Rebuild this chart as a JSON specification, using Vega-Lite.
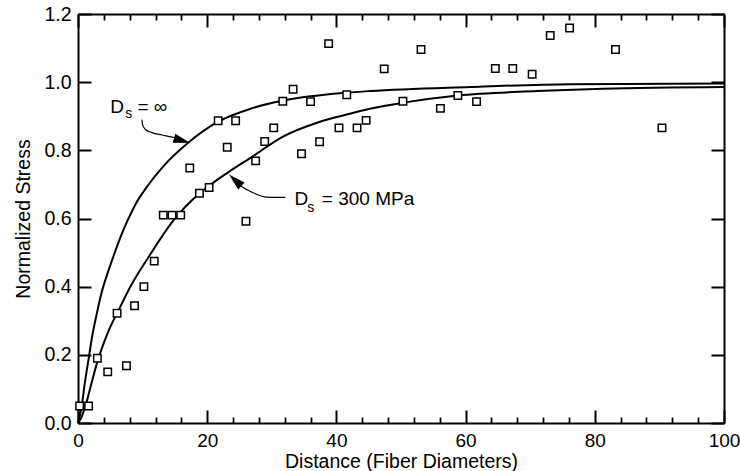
{
  "$schema": "https://vega.github.io/schema/vega-lite/v6.json",
  "width": 646,
  "height": 409,
  "autosize": {"type": "none"},
  "padding": {"left": 78, "top": 14, "right": 16, "bottom": 48},
  "background": "white",
  "config": {
    "view": {"stroke": null},
    "font": "Liberation Sans",
    "axis": {
      "labelFont": "Liberation Sans",
      "titleFont": "Liberation Sans",
      "labelColor": "black",
      "titleColor": "black",
      "domainColor": "black",
      "tickColor": "black",
      "grid": false,
      "titleFontWeight": "normal"
    }
  },
  "datasets": {
    "curves": [
      {"series": "inf", "x": 0, "y": 0},
      {"series": "inf", "x": 0.56, "y": 0.047},
      {"series": "inf", "x": 1.0, "y": 0.11},
      {"series": "inf", "x": 1.7, "y": 0.195},
      {"series": "inf", "x": 2.2, "y": 0.255},
      {"series": "inf", "x": 2.9, "y": 0.32},
      {"series": "inf", "x": 3.55, "y": 0.375},
      {"series": "inf", "x": 4.5, "y": 0.435},
      {"series": "inf", "x": 5.5, "y": 0.49},
      {"series": "inf", "x": 7.0, "y": 0.565},
      {"series": "inf", "x": 7.7, "y": 0.595},
      {"series": "inf", "x": 9.0, "y": 0.645},
      {"series": "inf", "x": 10.7, "y": 0.694},
      {"series": "inf", "x": 13.2, "y": 0.753},
      {"series": "inf", "x": 17.1, "y": 0.823},
      {"series": "inf", "x": 21.7, "y": 0.884},
      {"series": "inf", "x": 26.7, "y": 0.922},
      {"series": "inf", "x": 31.8, "y": 0.946},
      {"series": "inf", "x": 41.6, "y": 0.969},
      {"series": "inf", "x": 45.2, "y": 0.974},
      {"series": "inf", "x": 60.7, "y": 0.986},
      {"series": "inf", "x": 76.2, "y": 0.994},
      {"series": "inf", "x": 100, "y": 0.996},
      {"series": "300", "x": 0, "y": 0},
      {"series": "300", "x": 0.5, "y": 0.015},
      {"series": "300", "x": 1.1, "y": 0.047},
      {"series": "300", "x": 2.0, "y": 0.11},
      {"series": "300", "x": 3.0, "y": 0.18},
      {"series": "300", "x": 4.0, "y": 0.235},
      {"series": "300", "x": 5.0, "y": 0.282},
      {"series": "300", "x": 6.05, "y": 0.322},
      {"series": "300", "x": 8.1, "y": 0.4},
      {"series": "300", "x": 11.2, "y": 0.495},
      {"series": "300", "x": 14.8, "y": 0.595},
      {"series": "300", "x": 18.7, "y": 0.672},
      {"series": "300", "x": 20.5, "y": 0.699},
      {"series": "300", "x": 23.6, "y": 0.74},
      {"series": "300", "x": 26.7, "y": 0.778},
      {"series": "300", "x": 31.8, "y": 0.841},
      {"series": "300", "x": 37.0, "y": 0.881},
      {"series": "300", "x": 41.6, "y": 0.905},
      {"series": "300", "x": 45.2, "y": 0.922},
      {"series": "300", "x": 50.4, "y": 0.94},
      {"series": "300", "x": 58.8, "y": 0.961},
      {"series": "300", "x": 71, "y": 0.974},
      {"series": "300", "x": 81.3, "y": 0.981},
      {"series": "300", "x": 100, "y": 0.986}
    ],
    "points": [
      {"x": 0.25, "y": 0.05}, {"x": 1.64, "y": 0.05}, {"x": 3.0, "y": 0.19},
      {"x": 4.6, "y": 0.15}, {"x": 6.05, "y": 0.322}, {"x": 7.5, "y": 0.168},
      {"x": 8.75, "y": 0.344}, {"x": 10.2, "y": 0.40}, {"x": 11.8, "y": 0.475},
      {"x": 13.2, "y": 0.61}, {"x": 14.55, "y": 0.61}, {"x": 15.9, "y": 0.61},
      {"x": 17.3, "y": 0.748}, {"x": 18.8, "y": 0.674}, {"x": 20.3, "y": 0.691},
      {"x": 21.7, "y": 0.887}, {"x": 23.1, "y": 0.809}, {"x": 24.4, "y": 0.887},
      {"x": 26.0, "y": 0.592}, {"x": 27.5, "y": 0.769}, {"x": 28.9, "y": 0.826},
      {"x": 30.3, "y": 0.866}, {"x": 31.7, "y": 0.944}, {"x": 33.3, "y": 0.979},
      {"x": 34.6, "y": 0.790}, {"x": 36.0, "y": 0.943}, {"x": 37.4, "y": 0.825},
      {"x": 38.8, "y": 1.113}, {"x": 40.4, "y": 0.866}, {"x": 41.6, "y": 0.963},
      {"x": 43.2, "y": 0.866}, {"x": 44.6, "y": 0.888}, {"x": 47.4, "y": 1.039},
      {"x": 50.3, "y": 0.944}, {"x": 53.1, "y": 1.096}, {"x": 56.1, "y": 0.923},
      {"x": 58.8, "y": 0.961}, {"x": 61.7, "y": 0.943}, {"x": 64.6, "y": 1.040},
      {"x": 67.3, "y": 1.040}, {"x": 70.3, "y": 1.023}, {"x": 73.1, "y": 1.137},
      {"x": 76.1, "y": 1.159}, {"x": 83.2, "y": 1.096}, {"x": 90.4, "y": 0.866}
    ],
    "labels": [
      {"t": "D", "x": 5.0, "y": 0.911},
      {"t": "= ∞", "x": 9.2, "y": 0.911},
      {"t": "D", "x": 33.5, "y": 0.64},
      {"t": "= 300 MPa", "x": 37.75, "y": 0.64}
    ],
    "subs": [
      {"t": "s", "x": 7.3, "y": 0.896},
      {"t": "s", "x": 35.5, "y": 0.62}
    ],
    "arrows": [
      {"arrow": "a", "x": 9.9, "y": 0.890},
      {"arrow": "a", "x": 9.97, "y": 0.876},
      {"arrow": "a", "x": 10.4, "y": 0.862},
      {"arrow": "a", "x": 11.45, "y": 0.852},
      {"arrow": "a", "x": 13.0, "y": 0.845},
      {"arrow": "a", "x": 15.05, "y": 0.837},
      {"arrow": "a", "x": 15.6, "y": 0.834},
      {"arrow": "b", "x": 25.1, "y": 0.697},
      {"arrow": "b", "x": 26.0, "y": 0.686},
      {"arrow": "b", "x": 27.2, "y": 0.675},
      {"arrow": "b", "x": 29.2, "y": 0.663},
      {"arrow": "b", "x": 32.1, "y": 0.662}
    ],
    "heads": [
      {"arrow": "a", "x": 16.12, "y": 0.8285, "dir": 106},
      {"arrow": "b", "x": 24.34, "y": 0.7124, "dir": 313}
    ]
  },
  "resolve": {"axis": {"x": "independent", "y": "independent"}},
  "layer": [
    {
      "data": {"name": "curves"},
      "mark": {"type": "line", "color": "black", "strokeWidth": 2, "interpolate": "monotone"},
      "encoding": {
        "x": {"field": "x", "type": "quantitative", "scale": {"domain": [0, 100], "nice": false, "zero": false},
          "axis": {"orient": "bottom", "values": [0, 20, 40, 60, 80, 100], "format": "d", "tickSize": -13, "tickWidth": 2,
            "domainWidth": 2, "labelFontSize": 19, "labelPadding": 21, "labelFlush": false, "labelOverlap": false,
            "title": "Distance (Fiber Diameters)", "titleFontSize": 19.5, "titlePadding": 2}},
        "y": {"field": "y", "type": "quantitative", "scale": {"domain": [0, 1.2], "nice": false, "zero": false},
          "axis": {"orient": "left", "values": [0, 0.2, 0.4, 0.6, 0.8, 1.0, 1.2], "format": ".1f", "tickSize": -13, "tickWidth": 2,
            "domainWidth": 2, "labelFontSize": 19.5, "labelPadding": 20, "labelFlush": false, "labelOverlap": false,
            "title": "Normalized Stress", "titleFontSize": 19.5, "titlePadding": 10}},
        "detail": {"field": "series"}
      }
    },
    {
      "data": {"name": "points"},
      "mark": {"type": "point", "shape": "square", "size": 55, "stroke": "black", "strokeWidth": 1.5, "fill": "white", "filled": false, "fillOpacity": 1, "opacity": 1},
      "encoding": {
        "x": {"field": "x", "type": "quantitative", "scale": {"domain": [0, 100], "nice": false, "zero": false},
          "axis": {"orient": "bottom", "values": [4, 8, 12, 16, 24, 28, 32, 36, 44, 48, 52, 56, 64, 68, 72, 76, 84, 88, 92, 96],
            "tickSize": -6, "tickWidth": 1.8, "domain": false, "labels": false, "title": null}},
        "y": {"field": "y", "type": "quantitative", "scale": {"domain": [0, 1.2], "nice": false, "zero": false},
          "axis": {"orient": "right", "values": [0, 0.2, 0.4, 0.6, 0.8, 1.0, 1.2], "tickSize": -13, "tickWidth": 2,
            "domainWidth": 2, "labels": false, "title": null}}
      }
    },
    {
      "data": {"name": "labels"},
      "mark": {"type": "text", "align": "left", "baseline": "alphabetic", "fontSize": 19, "font": "Liberation Sans", "color": "black"},
      "encoding": {
        "x": {"field": "x", "type": "quantitative", "scale": {"domain": [0, 100], "nice": false, "zero": false},
          "axis": {"orient": "top", "values": [0, 20, 40, 60, 80, 100], "tickSize": -13, "tickWidth": 2,
            "domainWidth": 2, "labels": false, "title": null}},
        "y": {"field": "y", "type": "quantitative", "scale": {"domain": [0, 1.2], "nice": false, "zero": false}, "axis": null},
        "text": {"field": "t"}
      }
    },
    {
      "data": {"name": "subs"},
      "mark": {"type": "text", "align": "left", "baseline": "alphabetic", "fontSize": 14, "font": "Liberation Sans", "color": "black"},
      "encoding": {
        "x": {"field": "x", "type": "quantitative", "scale": {"domain": [0, 100], "nice": false, "zero": false},
          "axis": {"orient": "top", "values": [4, 8, 12, 16, 24, 28, 32, 36, 44, 48, 52, 56, 64, 68, 72, 76, 84, 88, 92, 96],
            "tickSize": -6, "tickWidth": 1.8, "domain": false, "labels": false, "title": null}},
        "y": {"field": "y", "type": "quantitative", "scale": {"domain": [0, 1.2], "nice": false, "zero": false}, "axis": null},
        "text": {"field": "t"}
      }
    },
    {
      "data": {"name": "arrows"},
      "mark": {"type": "line", "color": "black", "strokeWidth": 1.2, "interpolate": "monotone"},
      "encoding": {
        "x": {"field": "x", "type": "quantitative", "scale": {"domain": [0, 100], "nice": false, "zero": false}, "axis": null},
        "y": {"field": "y", "type": "quantitative", "scale": {"domain": [0, 1.2], "nice": false, "zero": false}, "axis": null},
        "detail": {"field": "arrow"}
      }
    },
    {
      "data": {"name": "heads"},
      "mark": {"type": "point", "shape": "M0,-1L0.55,1L-0.55,1Z", "size": 289, "filled": true, "color": "black", "opacity": 1},
      "encoding": {
        "x": {"field": "x", "type": "quantitative", "scale": {"domain": [0, 100], "nice": false, "zero": false}, "axis": null},
        "y": {"field": "y", "type": "quantitative", "scale": {"domain": [0, 1.2], "nice": false, "zero": false}, "axis": null},
        "angle": {"field": "dir", "type": "quantitative", "scale": null}
      }
    }
  ]
}
